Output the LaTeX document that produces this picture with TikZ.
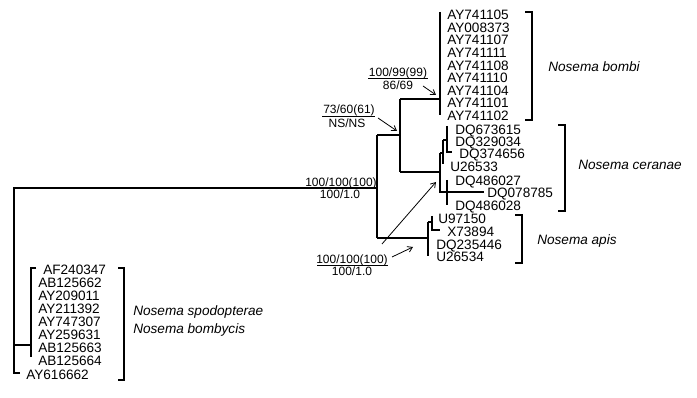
\documentclass[tikz,border=0pt]{standalone}
\usepackage{fontspec}
\setmainfont{Liberation Sans}
\usetikzlibrary{arrows.meta}
\begin{document}
\begin{tikzpicture}[x=0.75pt,y=-0.75pt,
  branch/.style={line width=0.9pt},
  leaf/.style={anchor=west,inner sep=0pt,text height=0.72em,text depth=0pt,font=\fontsize{10.2}{12}\selectfont},
  species/.style={anchor=west,inner sep=0pt,text height=0.72em,text depth=0pt,font=\fontsize{10.2}{12}\selectfont\itshape},
  supp/.style={inner sep=0pt,text height=0.72em,text depth=0pt,font=\fontsize{9}{10}\selectfont},
  fracbar/.style={line width=0.6pt},
  pointer/.style={-{Straight Barb[length=3.5pt,width=4.5pt]},line width=0.6pt}
]
\useasboundingbox (0,0) rectangle (697,398);

% ---- junction coordinates
\coordinate (rootT) at (14,188);
\coordinate (rootB) at (14,373);
\coordinate (ayTip) at (20,373);
\coordinate (spJ) at (14,345);
\coordinate (spN) at (31,345);
\coordinate (spT) at (31,268);
\coordinate (spB) at (31,357);
\coordinate (spTip) at (36,268);
\coordinate (nA) at (377,188);
\coordinate (nAT) at (377,135);
\coordinate (nAB) at (377,238);
\coordinate (nB) at (400,135);
\coordinate (nBT) at (400,99);
\coordinate (nBB) at (400,172);
\coordinate (bomJ) at (440,99);
\coordinate (bomT) at (440,12);
\coordinate (bomB) at (440,115);
\coordinate (cerJ) at (440,172);
\coordinate (cerT) at (440,153);
\coordinate (cerB) at (440,192);
\coordinate (cerTip) at (484,192);
\coordinate (c1J) at (443,153);
\coordinate (c1T) at (443,140);
\coordinate (c1B) at (443,164);
\coordinate (c2J) at (447,140);
\coordinate (c2T) at (447,126);
\coordinate (c2B) at (447,152);
\coordinate (c2Tip) at (452,152);
\coordinate (c3T) at (447,180);
\coordinate (c3B) at (447,205);
\coordinate (apJ) at (428,238);
\coordinate (apT) at (428,222);
\coordinate (apB) at (428,256);
\coordinate (a1J) at (432,222);
\coordinate (a1T) at (432,216);
\coordinate (a1B) at (432,230);
\coordinate (a1Tip) at (440,230);

% ---- tree
\draw[branch] (ayTip) -- (rootB) -- (rootT) -- (nA);
\draw[branch] (spJ) -- (spN);
\draw[branch] (spTip) -- (spT) -- (spB);
\draw[branch] (nAT) -- (nAB);
\draw[branch] (nAT) -- (nB);
\draw[branch] (nBT) -- (nBB);
\draw[branch] (nBT) -- (bomJ);
\draw[branch] (bomT) -- (bomB);
\draw[branch] (nBB) -- (cerJ);
\draw[branch] (cerT) -- (cerB) -- (cerTip);
\draw[branch] (cerT) -- (c1J);
\draw[branch] (c1T) -- (c1B);
\draw[branch] (c1T) -- (c2J);
\draw[branch] (c2T) -- (c2B) -- (c2Tip);
\draw[branch] (c3T) -- (c3B);
\draw[branch] (nAB) -- (apJ);
\draw[branch] (apT) -- (apB);
\draw[branch] (apT) -- (a1J);
\draw[branch] (a1T) -- (a1B) -- (a1Tip);

% ---- leaves: N. bombi
\node[leaf] (b1) at (447,15.0) {AY741105};
\node[leaf] (b2) at (447,27.6) {AY008373};
\node[leaf] (b3) at (447,40.2) {AY741107};
\node[leaf] (b4) at (447,52.8) {AY741111};
\node[leaf] (b5) at (447,65.4) {AY741108};
\node[leaf] (b6) at (447,78.0) {AY741110};
\node[leaf] (b7) at (447,90.6) {AY741104};
\node[leaf] (b8) at (447,103.2) {AY741101};
\node[leaf] (b9) at (447,115.8) {AY741102};

% ---- leaves: N. ceranae
\node[leaf] (c1) at (455,130) {DQ673615};
\node[leaf] (c2) at (455,142) {DQ329034};
\node[leaf] (c3) at (459,154) {DQ374656};
\node[leaf] (c4) at (450,167) {U26533};
\node[leaf] (c5) at (455,181) {DQ486027};
\node[leaf] (c6) at (487,193) {DQ078785};
\node[leaf] (c7) at (455,206) {DQ486028};

% ---- leaves: N. apis
\node[leaf] (a1) at (438,219) {U97150};
\node[leaf] (a2) at (447,232) {X73894};
\node[leaf] (a3) at (436,245) {DQ235446};
\node[leaf] (a4) at (436,257) {U26534};

% ---- leaves: N. spodopterae / bombycis
\node[leaf] (s1) at (43,270) {AF240347};
\node[leaf] (s2) at (38,283) {AB125662};
\node[leaf] (s3) at (38,296) {AY209011};
\node[leaf] (s4) at (38,309) {AY211392};
\node[leaf] (s5) at (38,322) {AY747307};
\node[leaf] (s6) at (38,335) {AY259631};
\node[leaf] (s7) at (38,348) {AB125663};
\node[leaf] (s8) at (38,361) {AB125664};
\node[leaf] (s9) at (26,375) {AY616662};

% ---- brackets
\coordinate (kb1) at (525,12); \coordinate (kb2) at (532,12);
\coordinate (kb3) at (532,120); \coordinate (kb4) at (525,120);
\draw[branch] (kb1) -- (kb2) -- (kb3) -- (kb4);
\coordinate (kc1) at (558,125); \coordinate (kc2) at (565,125);
\coordinate (kc3) at (565,211); \coordinate (kc4) at (558,211);
\draw[branch] (kc1) -- (kc2) -- (kc3) -- (kc4);
\coordinate (ka1) at (515,215); \coordinate (ka2) at (522,215);
\coordinate (ka3) at (522,263); \coordinate (ka4) at (515,263);
\draw[branch] (ka1) -- (ka2) -- (ka3) -- (ka4);
\coordinate (ks1) at (118,268); \coordinate (ks2) at (124,268);
\coordinate (ks3) at (124,380); \coordinate (ks4) at (118,380);
\draw[branch] (ks1) -- (ks2) -- (ks3) -- (ks4);

% ---- species names
\node[species] (spb) at (548,67) {Nosema bombi};
\node[species] (spc) at (578,165) {Nosema ceranae};
\node[species] (spa) at (537,240) {Nosema apis};
\node[species] (sps) at (133,311) {Nosema spodopterae};
\node[species] (spy) at (133,329) {Nosema bombycis};

% ---- support values
\node[supp] (l1t) at (398,72) {100/99(99)};
\node[supp] (l1b) at (398,85) {86/69};
\coordinate (l1L) at (368,78); \coordinate (l1R) at (428,78);
\draw[fracbar] (l1L) -- (l1R);
\coordinate (l1s) at (423,86); \coordinate (l1e) at (436,95);
\draw[pointer] (l1s) -- (l1e);

\node[supp] (l2t) at (349,109) {73/60(61)};
\node[supp] (l2b) at (347,123) {NS/NS};
\coordinate (l2L) at (322,116); \coordinate (l2R) at (375,116);
\draw[fracbar] (l2L) -- (l2R);
\coordinate (l2s) at (378,118); \coordinate (l2e) at (397,131);
\draw[pointer] (l2s) -- (l2e);

\node[supp] (l3t) at (341,182) {100/100(100)};
\node[supp] (l3b) at (340,194) {100/1.0};

\node[supp] (l4t) at (352,259) {100/100(100)};
\node[supp] (l4b) at (352,271) {100/1.0};
\coordinate (l4L) at (317,265); \coordinate (l4R) at (388,265);
\draw[fracbar] (l4L) -- (l4R);
\coordinate (l4s) at (392,257); \coordinate (l4e) at (413,247);
\draw[pointer] (l4s) -- (l4e);
\coordinate (l5s) at (382,244); \coordinate (l5e) at (436,182);
\draw[pointer] (l5s) -- (l5e);
\end{tikzpicture}
\end{document}
